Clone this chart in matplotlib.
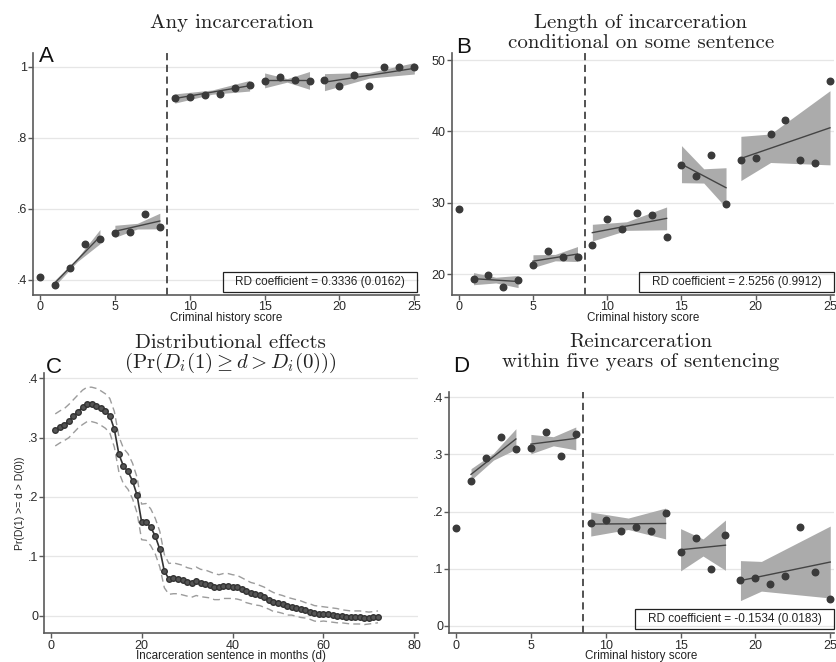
import numpy as np
import matplotlib
matplotlib.use("Agg")
import matplotlib.pyplot as plt
from matplotlib.patches import Rectangle

plt.rcParams["font.family"] = ["Liberation Sans", "DejaVu Sans"]
plt.rcParams["mathtext.fontset"] = "cm"

# ============================
# Data
# ============================

score = list(range(26))
segments = [(1, 4), (5, 8), (9, 14), (15, 18), (19, 25)]

# Panel A - any incarceration
a_vals = [0.408, 0.387, 0.434, 0.500, 0.514, 0.533, 0.535, 0.585, 0.549,
          0.912, 0.915, 0.920, 0.925, 0.941, 0.948,
          0.960, 0.971, 0.962, 0.961,
          0.962, 0.947, 0.976, 0.947, 1.000, 1.000, 1.000]
a_fit_start = [0.392, 0.537, 0.911, 0.962, 0.957]
a_fit_end = [0.522, 0.566, 0.947, 0.962, 0.996]
a_band_mid_x = [2.5, 6.5, 11.5, 16.5, 22.0]
a_band = [(0.008, 0.005, 0.020), (0.017, 0.008, 0.022), (0.013, 0.006, 0.015),
          (0.021, 0.005, 0.025), (0.024, 0.008, 0.016)]

# Panel B - length of incarceration
b_vals = [29.1, 19.25, 19.8, 18.2, 19.15, 21.2, 23.2, 22.4, 22.4,
          24.1, 27.7, 26.35, 28.6, 28.25, 25.2,
          35.3, 33.7, 36.7, 29.8,
          35.95, 36.2, 39.6, 41.55, 35.95, 35.5, 47.0]
b_fit_start = [19.35, 21.8, 25.8, 35.4, 36.2]
b_fit_end = [18.95, 22.8, 27.8, 32.1, 40.5]
b_band_mid_x = [2.5, 6.5, 11.3, 16.5, 21.0]
b_band = [(0.85, 0.4, 0.85), (0.9, 0.45, 1.05), (1.17, 0.6, 1.6),
          (2.6, 1.0, 2.8), (3.1, 2.0, 5.2)]

# Panel D - reincarceration
d_vals = [0.1705, 0.254, 0.293, 0.330, 0.3095, 0.311, 0.340, 0.298, 0.336,
          0.179, 0.1845, 0.165, 0.173, 0.166, 0.197,
          0.129, 0.1536, 0.100, 0.158,
          0.080, 0.0835, 0.0724, 0.087, 0.172, 0.0946, 0.047]
d_fit_start = [0.265, 0.318, 0.178, 0.133, 0.079]
d_fit_end = [0.327, 0.328, 0.179, 0.141, 0.1115]
d_band_mid_x = [2.5, 6.5, 11.5, 16.5, 20.4]
d_band = [(0.010, 0.006, 0.018), (0.017, 0.008, 0.020), (0.021, 0.010, 0.027),
          (0.037, 0.015, 0.044), (0.035, 0.026, 0.063)]

rd_text = ["RD coefficient = 0.3336 (0.0162)",
           "RD coefficient = 2.5256 (0.9912)",
           "RD coefficient = -0.1534 (0.0183)"]

# Panel C - distributional effects
months = list(range(1, 73))
c_vals = [0.313, 0.318, 0.322, 0.328, 0.336, 0.344, 0.351, 0.356, 0.356, 0.354,
          0.350, 0.345, 0.337, 0.314, 0.272, 0.252, 0.243, 0.227, 0.203, 0.158,
          0.158, 0.149, 0.134, 0.112, 0.075, 0.062, 0.063, 0.062, 0.060, 0.057,
          0.055, 0.058, 0.055, 0.054, 0.052, 0.049, 0.048, 0.050, 0.050, 0.049,
          0.048, 0.045, 0.041, 0.038, 0.036, 0.034, 0.031, 0.027, 0.023, 0.021,
          0.019, 0.016, 0.015, 0.013, 0.011, 0.009, 0.007, 0.004, 0.003, 0.003,
          0.002, 0.001, 0.000, -0.001, -0.002, -0.003, -0.003, -0.003, -0.004, -0.004,
          -0.003, -0.002]
c_half = [0.027, 0.027, 0.027, 0.028, 0.028, 0.028, 0.029, 0.029, 0.029, 0.029,
          0.029, 0.029, 0.029, 0.030, 0.030, 0.030, 0.030, 0.030, 0.030, 0.030,
          0.031, 0.031, 0.030, 0.030, 0.028, 0.026, 0.026, 0.025, 0.025, 0.024,
          0.024, 0.024, 0.023, 0.023, 0.022, 0.022, 0.021, 0.021, 0.021, 0.020,
          0.020, 0.019, 0.019, 0.018, 0.018, 0.017, 0.017, 0.016, 0.016, 0.015,
          0.015, 0.015, 0.014, 0.014, 0.014, 0.013, 0.013, 0.013, 0.013, 0.012,
          0.012, 0.012, 0.012, 0.011, 0.011, 0.011, 0.011, 0.011, 0.011, 0.010,
          0.010, 0.010]

# ============================
# Style helpers
# ============================

W, H = 837, 662
DARK = "#3a3a3a"
BAND = "#ababab"
SPINE = "#5a5a5a"


def px_axes(fig, left, top, right, bottom):
    return fig.add_axes([left / W, 1 - bottom / H, (right - left) / W, (bottom - top) / H])


def style_axes(ax, yticks, ylabels):
    for s in ["top", "right"]:
        ax.spines[s].set_visible(False)
    for s in ["left", "bottom"]:
        ax.spines[s].set_color(SPINE)
        ax.spines[s].set_linewidth(1.2)
    ax.set_yticks(yticks)
    ax.set_yticklabels(ylabels)
    ax.tick_params(direction="out", length=3.5, width=1, color=SPINE,
                   labelsize=9, labelcolor="#2a2a2a", pad=1)
    ax.yaxis.grid(True, color="#e6e6e6", linewidth=0.9)
    ax.set_axisbelow(True)


def rd_panel(ax, vals, fit_start, fit_end, band_mid_x, band):
    for i, (lo, hi) in enumerate(segments):
        bx = [lo, band_mid_x[i], hi]
        frac = (band_mid_x[i] - lo) / (hi - lo)
        line_mid = fit_start[i] + frac * (fit_end[i] - fit_start[i])
        by = np.array([fit_start[i], line_mid, fit_end[i]])
        hw = np.array(band[i])
        ax.fill_between(bx, by - hw, by + hw, color=BAND, linewidth=0, zorder=1)
        ax.plot([lo, hi], [fit_start[i], fit_end[i]], color="#444444", linewidth=1.0, zorder=2)
    ax.plot(score, vals, "o", color=DARK, markersize=4.7, zorder=3)
    ax.axvline(8.5, color="#444444", linestyle=(0, (4, 2.5)), linewidth=1.3, zorder=2)
    ax.set_xticks([0, 5, 10, 15, 20, 25])
    ax.set_xlabel("Criminal history score", fontsize=8.4, color="#222222", labelpad=-1)


def rd_box(fig, left, top, right, bottom, text):
    fig.patches.append(Rectangle((left / W, 1 - bottom / H), (right - left) / W, (bottom - top) / H,
                                 transform=fig.transFigure, fill=False, edgecolor="#222222",
                                 linewidth=0.9))
    fig.text((left + right) / 2 / W, 1 - (top + bottom) / 2 / H, text,
             ha="center", va="center", fontsize=8.5, color="#222222")


# ============================
# Plot
# ============================

fig = plt.figure(figsize=(W / 100, H / 100), dpi=100)

# Panel A
ax_a = px_axes(fig, 33.3, 52.7, 418.8, 295)
rd_panel(ax_a, a_vals, a_fit_start, a_fit_end, a_band_mid_x, a_band)
style_axes(ax_a, [0.4, 0.6, 0.8, 1.0], [".4", ".6", ".8", "1"])
ax_a.set_xlim(-0.45, 25.3)
ax_a.set_ylim(0.3577, 1.040)

# Panel B
ax_b = px_axes(fig, 452, 53.3, 834, 295)
rd_panel(ax_b, b_vals, b_fit_start, b_fit_end, b_band_mid_x, b_band)
style_axes(ax_b, [20, 30, 40, 50], ["20", "30", "40", "50"])
ax_b.set_xlim(-0.45, 25.27)
ax_b.set_ylim(17.06, 50.94)

# Panel C
ax_c = px_axes(fig, 44.3, 373.3, 418, 633.3)
c_vals_arr = np.array(c_vals)
c_half_arr = np.array(c_half)
ax_c.plot(months, c_vals_arr + c_half_arr, color="#9c9c9c", linestyle=(0, (5, 3)), linewidth=1.0)
ax_c.plot(months, c_vals_arr - c_half_arr, color="#9c9c9c", linestyle=(0, (5, 3)), linewidth=1.0)
ax_c.plot(months, c_vals, "-o", color="#333333", markerfacecolor="#555555",
          markeredgecolor="#333333", markersize=4, linewidth=1.2)
style_axes(ax_c, [0, 0.1, 0.2, 0.3, 0.4], ["0", ".1", ".2", ".3", ".4"])
ax_c.set_xticks([0, 20, 40, 60, 80])
ax_c.set_xlim(-1.41, 80.8)
ax_c.set_ylim(-0.0297, 0.4084)
ax_c.set_xlabel("Incarceration sentence in months (d)", fontsize=8.4, color="#222222", labelpad=-1)
ax_c.set_ylabel("Pr(D(1) >= d > D(0))", fontsize=7.5, color="#222222", labelpad=2)

# Panel D
ax_d = px_axes(fig, 449.3, 391.7, 834, 633.3)
rd_panel(ax_d, d_vals, d_fit_start, d_fit_end, d_band_mid_x, d_band)
style_axes(ax_d, [0, 0.1, 0.2, 0.3, 0.4], ["0", ".1", ".2", ".3", ".4"])
ax_d.set_xlim(-0.45, 25.25)
ax_d.set_ylim(-0.0133, 0.4098)

# RD coefficient boxes
rd_box(fig, 223, 272, 417, 292, rd_text[0])
rd_box(fig, 639, 272, 834, 292, rd_text[1])
rd_box(fig, 635, 609, 834, 629, rd_text[2])

# Titles (serif, Computer Modern look)
title_kw = dict(ha="center", va="center", fontsize=15, family="cmr10", color="#222222")
fig.text(232 / W, 1 - 23 / H, "Any incarceration", **title_kw)
fig.text(641 / W, 1 - 23 / H, "Length of incarceration", **title_kw)
fig.text(641 / W, 1 - 43 / H, "conditional on some sentence", **title_kw)
fig.text(230 / W, 1 - 343 / H, "Distributional effects", **title_kw)
fig.text(230 / W, 1 - 363 / H, r"$(\mathrm{Pr}(D_i(1) \geq d > D_i(0)))$",
         ha="center", va="center", fontsize=15, color="#222222")
fig.text(641 / W, 1 - 342 / H, "Reincarceration", **title_kw)
fig.text(641 / W, 1 - 362 / H, "within five years of sentencing", **title_kw)

# Panel letters
letter_kw = dict(ha="left", va="baseline", fontsize=16, color="#111111")
fig.text(39 / W, 1 - 62 / H, "A", **letter_kw)
fig.text(456 / W, 1 - 53 / H, "B", **letter_kw)
fig.text(46 / W, 1 - 373 / H, "C", **letter_kw)
fig.text(453 / W, 1 - 372 / H, "D", **letter_kw)

plt.savefig("out.png", dpi=100)
plt.close()
